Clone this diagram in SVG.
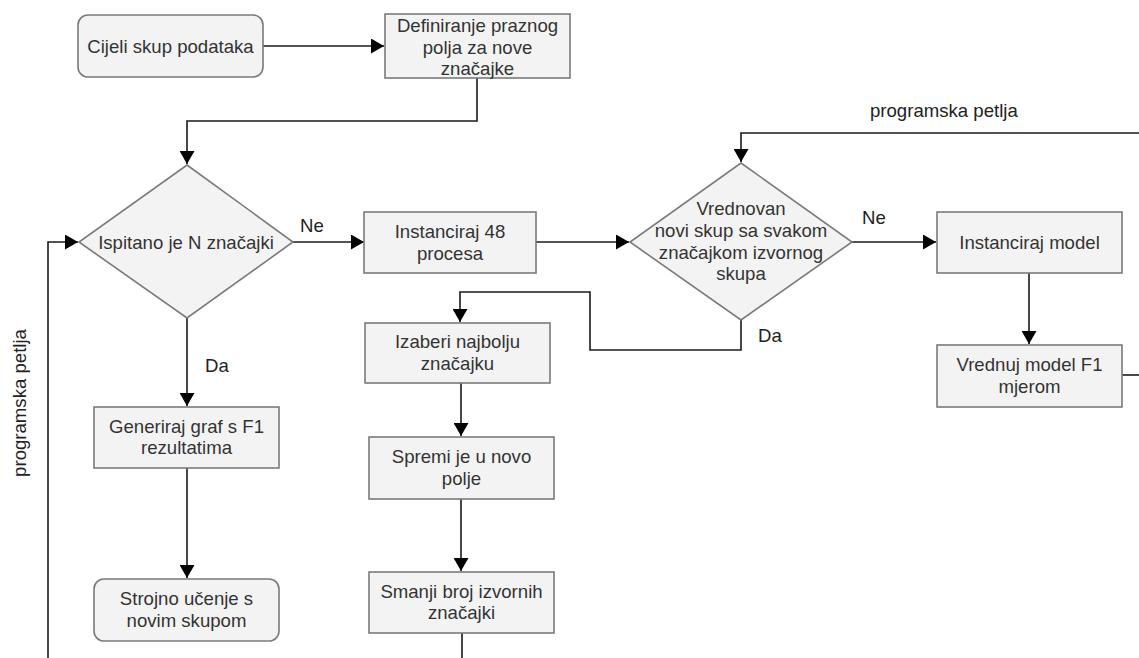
<svg xmlns="http://www.w3.org/2000/svg" width="1139" height="658" viewBox="0 0 1139 658">
<style>
.box{fill:#f3f3f3;stroke:#7a7a7a;stroke-width:1.6}
.t{font-family:"Liberation Sans",Arial,sans-serif;font-size:18.6px;fill:#333;text-anchor:middle}
.l{font-family:"Liberation Sans",Arial,sans-serif;font-size:18.6px;fill:#222}
.c{fill:none;stroke:#1a1a1a;stroke-width:1.6}
</style>
<defs>
<marker id="ah" markerUnits="userSpaceOnUse" markerWidth="14" markerHeight="15" refX="13" refY="7.5" orient="auto">
<path d="M0,0 L13,7.5 L0,15 Z" fill="#000"/>
</marker>
</defs>
<rect width="1139" height="658" fill="#fff"/>
<g id="connectors">
<path class="c" d="M263,46 H384" marker-end="url(#ah)"/>
<path class="c" d="M477,78 V121 H187 V164" marker-end="url(#ah)"/>
<path class="c" d="M293,242 H364" marker-end="url(#ah)"/>
<path class="c" d="M536,242 H629" marker-end="url(#ah)"/>
<path class="c" d="M852,242 H936" marker-end="url(#ah)"/>
<path class="c" d="M1029,273 V344" marker-end="url(#ah)"/>
<path class="c" d="M1122,375 H1139"/>
<path class="c" d="M1139,133 H741 V162" marker-end="url(#ah)"/>
<path class="c" d="M741,320 V350 H590 V292 H460 V322" marker-end="url(#ah)"/>
<path class="c" d="M461,383 V436" marker-end="url(#ah)"/>
<path class="c" d="M461,499 V571" marker-end="url(#ah)"/>
<path class="c" d="M462,633 V658"/>
<path class="c" d="M187,318 V406" marker-end="url(#ah)"/>
<path class="c" d="M187,468 V578" marker-end="url(#ah)"/>
<path class="c" d="M48,658 V242 H78" marker-end="url(#ah)"/>
<text class="l" x="300" y="232">Ne</text>
<text class="l" x="862" y="224">Ne</text>
<text class="l" x="758" y="342">Da</text>
<text class="l" x="205" y="372">Da</text>
<text class="l" x="870" y="117">programska petlja</text>
<text class="l" x="26" y="403" text-anchor="middle" transform="rotate(-90 26 403)">programska petlja</text>
</g>
<g id="n-cijeli">
<rect class="box" x="78" y="15" width="185" height="62" rx="10"/>
<text class="t" x="170.5" y="52.5">Cijeli skup podataka</text>
</g>
<g id="n-definiranje">
<rect class="box" x="385" y="14" width="185" height="64"/>
<text class="t" x="477.5" y="31.5">Definiranje praznog</text>
<text class="t" x="477.5" y="53.5">polja za nove</text>
<text class="t" x="477.5" y="74.5">značajke</text>
</g>
<g id="n-ispitano">
<polygon class="box" points="187,165 293,242 187,318 79,242"/>
<text class="t" x="186" y="248.5">Ispitano je N značajki</text>
</g>
<g id="n-instanciraj48">
<rect class="box" x="364" y="212" width="172" height="61"/>
<text class="t" x="450" y="238">Instanciraj 48</text>
<text class="t" x="450" y="259.5">procesa</text>
</g>
<g id="n-vrednovan">
<polygon class="box" points="741,163 852,242 741,320 630,242"/>
<text class="t" x="741" y="214.5">Vrednovan</text>
<text class="t" x="741" y="236.5">novi skup sa svakom</text>
<text class="t" x="741" y="258.5">značajkom izvornog</text>
<text class="t" x="741" y="279.5">skupa</text>
</g>
<g id="n-instanciraj-model">
<rect class="box" x="937" y="212" width="185" height="61"/>
<text class="t" x="1029.5" y="249">Instanciraj model</text>
</g>
<g id="n-vrednuj">
<rect class="box" x="937" y="345" width="185" height="62"/>
<text class="t" x="1029.5" y="371">Vrednuj model F1</text>
<text class="t" x="1029.5" y="392.5">mjerom</text>
</g>
<g id="n-izaberi">
<rect class="box" x="365" y="323" width="185" height="60"/>
<text class="t" x="457.5" y="348">Izaberi najbolju</text>
<text class="t" x="457.5" y="369.5">značajku</text>
</g>
<g id="n-spremi">
<rect class="box" x="369" y="437" width="185" height="62"/>
<text class="t" x="461.5" y="463">Spremi je u novo</text>
<text class="t" x="461.5" y="484.5">polje</text>
</g>
<g id="n-smanji">
<rect class="box" x="369" y="572" width="185" height="61"/>
<text class="t" x="461.5" y="597.5">Smanji broj izvornih</text>
<text class="t" x="461.5" y="619">značajki</text>
</g>
<g id="n-generiraj">
<rect class="box" x="94" y="407" width="185" height="61"/>
<text class="t" x="186.5" y="432.5">Generiraj graf s F1</text>
<text class="t" x="186.5" y="454">rezultatima</text>
</g>
<g id="n-strojno">
<rect class="box" x="94" y="579" width="185" height="62" rx="10"/>
<text class="t" x="186.5" y="605">Strojno učenje s</text>
<text class="t" x="186.5" y="626.5">novim skupom</text>
</g>
</svg>
